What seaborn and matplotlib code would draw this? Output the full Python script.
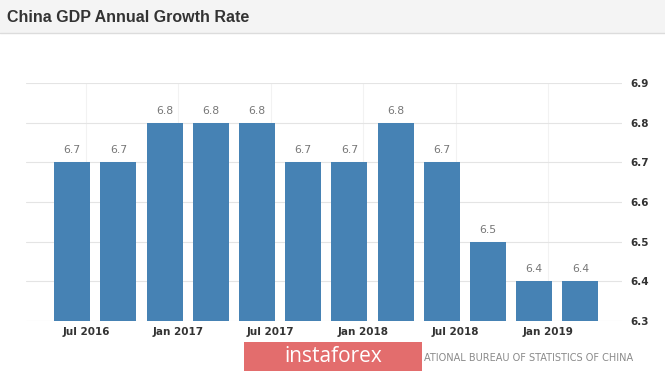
import matplotlib
matplotlib.use("Agg")
import matplotlib.pyplot as plt
import matplotlib.patches as mpatches
import seaborn as sns
import pandas as pd

quarters = ["Q2 2016", "Q3 2016", "Q4 2016", "Q1 2017", "Q2 2017", "Q3 2017",
            "Q4 2017", "Q1 2018", "Q2 2018", "Q3 2018", "Q4 2018", "Q1 2019"]
growth = [6.7, 6.7, 6.8, 6.8, 6.8, 6.7, 6.7, 6.8, 6.7, 6.5, 6.4, 6.4]
tick_labels = ["Jul 2016", "Jan 2017", "Jul 2017", "Jan 2018", "Jul 2018", "Jan 2019"]
y_ticks = [6.3, 6.4, 6.5, 6.6, 6.7, 6.8, 6.9]

df = pd.DataFrame({"quarter": quarters, "growth": growth})

sns.set_theme(style="white")
plt.rcParams["font.family"] = ["DejaVu Sans"]

W, H = 665, 373
fig = plt.figure(figsize=(W / 100, H / 100), dpi=100)
fig.patch.set_facecolor("white")

# title bar
fig.patches.append(mpatches.Rectangle((0, 1 - 33 / H), 1, 33 / H, transform=fig.transFigure,
                                      facecolor="#f4f4f4", edgecolor="none", zorder=0))
fig.lines.append(plt.Line2D([0, 1], [1 - 33 / H, 1 - 33 / H], transform=fig.transFigure,
                            color="#dcdcdc", lw=1))
fig.text(7 / W, 1 - 17 / H, "China GDP Annual Growth Rate", family="Liberation Sans",
         weight="bold", fontsize=11.5, color="#333333", va="center", ha="left")

ax = fig.add_axes([26 / W, 1 - 321 / H, (622 - 26) / W, (321 - 83) / H])
sns.barplot(data=df, x="quarter", y="growth", color="#4682b4", saturation=1,
            width=0.78, ax=ax, zorder=3)
for p in ax.patches:
    p.set_edgecolor("none")

ax.set_ylim(6.3, 6.9)
ax.set_xlim(-1.0, 11.9)
ax.yaxis.tick_right()
ax.set_yticks(y_ticks)
ax.set_yticklabels([f"{v:.1f}" for v in y_ticks])
ax.set_xticks([0.3, 2.3, 4.3, 6.3, 8.3, 10.3])
ax.set_xticklabels(tick_labels)
ax.tick_params(axis="both", length=0, labelsize=7.5, labelcolor="#333333")
ax.tick_params(axis="y", pad=6)
ax.tick_params(axis="x", pad=4)
for lab in ax.get_xticklabels() + ax.get_yticklabels():
    lab.set_fontweight("bold")
ax.set_xlabel("")
ax.set_ylabel("")
for s in ax.spines.values():
    s.set_visible(False)
ax.grid(axis="y", color="#e4e4e4", lw=0.8, zorder=0)
ax.grid(axis="x", color="#f2f2f2", lw=0.8, zorder=0)
ax.set_axisbelow(True)

for i, v in enumerate(growth):
    ax.annotate(f"{v:.1f}", (i, v), xytext=(0, 5), textcoords="offset points",
                ha="center", va="bottom", fontsize=7.8, color="#777777")

# source (partly hidden by the watermark in the original) + watermark
fig.text(424 / W, 1 - 358 / H, "ATIONAL BUREAU OF STATISTICS OF CHINA",
         ha="left", va="center", fontsize=7.0, color="#8a8a8a", zorder=1)
fig.patches.append(mpatches.Rectangle((244 / W, 1 - 371 / H), (422 - 244) / W, 29 / H,
                                      transform=fig.transFigure, facecolor="#e36d6d",
                                      edgecolor="none", zorder=5))
fig.text(333 / W, 1 - 357 / H, "instaforex", ha="center", va="center", fontsize=15,
         color="white", family="Open Sans", zorder=6)

fig.savefig("out.png", dpi=100)
